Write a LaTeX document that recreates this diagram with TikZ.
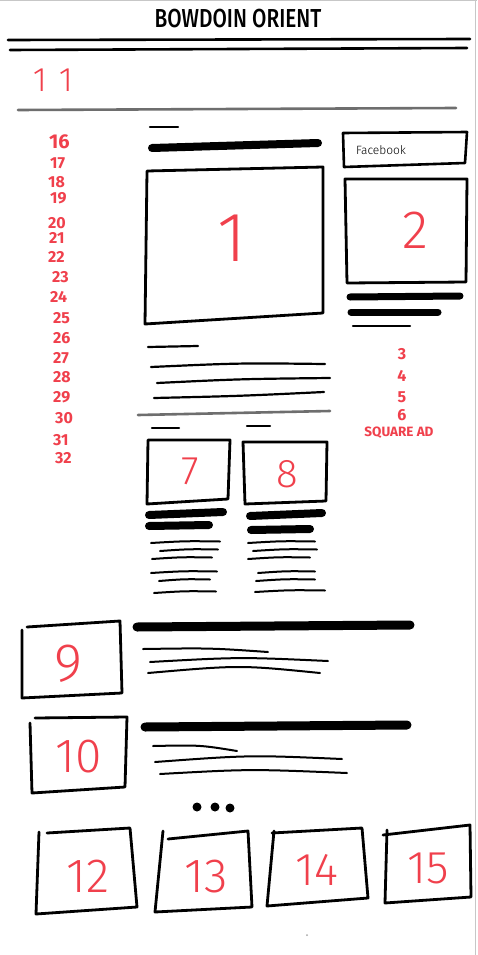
\documentclass[tikz,border=0pt]{standalone}
\usepackage{fontspec}
\setmainfont{Fira Sans}
\newfontfamily\lightfont{Fira Sans Light}
\newfontfamily\medfont{Fira Sans Medium}
\definecolor{redink}{RGB}{240,64,76}
\definecolor{grayrule}{RGB}{110,110,110}
\begin{document}
\begin{tikzpicture}[x=1pt,y=-1pt,
  pen/.style={line width=2.2pt,line cap=round,line join=round,black},
  sketchbox/.style={line width=2.8pt,line cap=round,line join=round,black},
  heavybar/.style={line width=8pt,line cap=round,black},
  midbar/.style={line width=7pt,line cap=round,black},
  thinpen/.style={line width=2pt,line cap=round,black},
  grayline/.style={line width=2.6pt,line cap=round,grayrule},
  bignum/.style={text=redink,inner sep=0pt,font=\lightfont\fontsize{#1}{#1}\selectfont},
  listnum/.style={text=redink,inner sep=0pt,anchor=west,font=\fontsize{16}{16}\selectfont\bfseries},
  sidenum/.style={text=redink,inner sep=0pt,font=\fontsize{16}{16}\selectfont\bfseries}]
\useasboundingbox (0,0) rectangle (477,955);
\fill[white] (0,0) rectangle (477,955);
\draw[line width=1pt,black!22] (0,0.5) -- (477,0.5);
\draw[line width=1pt,black!22] (475.5,0) -- (475.5,955);

% header
\node[inner sep=0pt,font=\medfont\fontsize{26}{26}\selectfont] (title) at (238,19) {\scalebox{0.8}[1]{BOWDOIN ORIENT}};
\draw[line width=2.6pt,line cap=round] (8,40) -- (470,39);
\draw[line width=2.6pt,line cap=round] (10,50) -- (467,48);
\node[bignum=34] (n11) at (53,80) {1\kern12pt1};
\draw[grayline] (18,110) -- (456,108);

% left list
\node[text=redink,inner sep=0pt,anchor=west,font=\fontsize{20}{20}\selectfont\bfseries] (n16) at (49,142) {16};
\foreach \n/\x/\y in {17/50/163,18/48/182,19/50/198,20/48/223,21/49/238,22/48/257,23/52/277,24/50/297,25/53/318,26/53/338,27/53/358,28/53/377,29/53/397,30/55/418,31/53/440,32/55/458}
  \node[listnum] (n\n) at (\x,\y) {\n};

% main story
\draw[pen] (150,127) -- (178,127);
\draw[heavybar] (152,148) -- (318,143);
\draw[sketchbox] (147,171) -- (323,167) -- (323,313) -- (145,324) -- cycle;
\node[bignum=70] (n1) at (232,238) {1};
\draw[pen] (148,347) -- (198,346);
\draw[pen] (151,367) .. controls (240,363) .. (325,364);
\draw[pen] (157,383) .. controls (240,379) .. (330,378);
\draw[pen] (154,398) .. controls (240,396) .. (324,392);
\draw[grayline] (138,415) -- (330,411);

% right column
\draw[line width=2.6pt,line join=round] (343,133) -- (467,132) -- (465,163) -- (344,167) -- cycle;
\node[inner sep=0pt,font=\lightfont\fontsize{12}{12}\selectfont] (fb) at (381,150) {Facebook};
\draw[sketchbox] (345,179) -- (467,179) -- (466,282) -- (347,283) -- cycle;
\node[bignum=54] (n2) at (415,230) {2};
\draw[midbar] (350,297) -- (460,296);
\draw[midbar] (351,312) -- (438,312);
\draw[pen] (353,326) -- (410,326);
\node[sidenum] (n3) at (402,354) {3};
\node[sidenum] (n4) at (402,376) {4};
\node[sidenum] (n5) at (402,397) {5};
\node[sidenum] (n6) at (402,415) {6};
\node[text=redink,inner sep=0pt,font=\fontsize{13.5}{13.5}\selectfont\bfseries] (sq) at (399,433) {SQUARE AD};

% stories 7 and 8
\draw[pen] (152,428) -- (179,428);
\draw[pen] (247,426) -- (270,426);
\draw[sketchbox] (148,440) -- (230,440) -- (228,499) -- (147,504) -- cycle;
\draw[sketchbox] (243,442) -- (327,442) -- (326,501) -- (245,504) -- cycle;
\node[bignum=40] (n7) at (190,471) {7};
\node[bignum=40] (n8) at (287,474) {8};
\draw[heavybar] (149,515) -- (223,512);
\draw[heavybar] (149,526) -- (209,525);
\draw[heavybar] (250,516) -- (322,513);
\draw[heavybar] (251,530) -- (310,529);
\foreach \a/\b/\y in {151/220/542,160/218/550,152/212/558,151/217/572,159/210/580,154/216/592}
  \draw[thinpen] (\a,\y+1) .. controls (\a/2+\b/2,\y-1) .. (\b,\y-0.5);
\foreach \a/\b/\y in {248/315/542,253/317/550,248/310/558,258/315/572,256/315/580,255/325/591}
  \draw[thinpen] (\a,\y+1) .. controls (\a/2+\b/2,\y-1) .. (\b,\y-0.5);

% story 9
\draw[sketchbox] (27,627) -- (120,621) -- (122,693) -- (22,698) -- (22,630);
\node[bignum=54] (n9) at (68,664) {9};
\draw[line width=9pt,line cap=round] (137,627) -- (410,625);
\draw[thinpen] (143,649) .. controls (210,648) .. (268,652);
\draw[thinpen] (150,662) .. controls (240,657) .. (328,661);
\draw[thinpen] (148,673) .. controls (240,665) .. (320,673);

% story 10
\draw[sketchbox] (35,718) -- (127,717) -- (125,787) -- (32,793) -- (30,723);
\node[bignum=48] (n10) at (79,757) {10};
\draw[line width=9pt,line cap=round] (145,727) -- (407,725);
\draw[thinpen] (153,746) .. controls (200,745) .. (237,751);
\draw[thinpen] (155,762) .. controls (250,755) .. (342,759);
\draw[thinpen] (160,774) .. controls (250,769) .. (347,773);
\fill (197,807) circle (4.5) (215,807) circle (4.5) (230,808) circle (4.5);

% bottom row
\draw[sketchbox] (47,833) -- (130,828) -- (137,907) -- (36,914) -- (39,832);
\draw[sketchbox] (168,839) -- (248,831) -- (252,907) -- (155,912) -- (163,831);
\draw[sketchbox] (272,833) -- (362,828) -- (368,898) -- (267,906) -- (274,831);
\draw[sketchbox] (383,835) -- (470,825) -- (471,897) -- (385,903) -- (387,830);
\node[bignum=48] (n12) at (88,876) {12};
\node[bignum=48] (n13) at (206,877) {13};
\node[bignum=46] (n14) at (317,870) {14};
\node[bignum=46] (n15) at (428,868) {15};
\fill[black!35] (307,935) circle (1);
\end{tikzpicture}
\end{document}
